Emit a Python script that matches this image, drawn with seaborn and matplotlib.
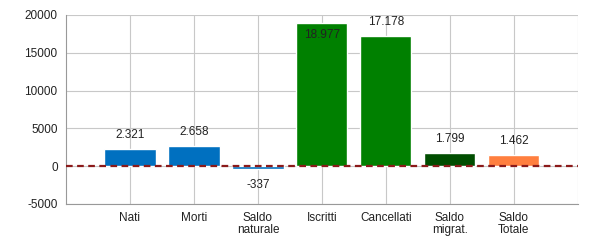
import matplotlib
matplotlib.use("Agg")
import matplotlib.pyplot as plt
import seaborn as sns
import pandas as pd

categories = ["Nati", "Morti", "Saldo\nnaturale", "Iscritti", "Cancellati", "Saldo\nmigrat.", "Saldo\nTotale"]
values = [2321, 2658, -337, 18977, 17178, 1799, 1462]
colors = ["#0070C0", "#0070C0", "#0070C0", "#008000", "#008000", "#004D00", "#FF7F3F"]
yticks = [-5000, 0, 5000, 10000, 15000, 20000]

sns.set_style("white")
plt.rcParams["font.family"] = ["Liberation Sans", "DejaVu Sans"]

df = pd.DataFrame({"cat": categories, "val": values})
fig = plt.figure(figsize=(6, 2.5), dpi=100)
ax = fig.add_axes([0.11, 0.184, 0.853, 0.756])
sns.barplot(data=df, x="cat", y="val", hue="cat", palette=colors, legend=False,
            width=0.8, saturation=1, ax=ax, zorder=3)

ax.set_xlim(-1, 7)
ax.set_ylim(-5000, 20000)
ax.set_xticks(list(range(0, 8)))
ax.set_xticklabels(categories + [""], fontsize=8.5, linespacing=1.0)
ax.set_yticks(yticks)
ax.set_yticklabels([str(v) for v in yticks], fontsize=8.5)
ax.set_xlabel("")
ax.set_ylabel("")
ax.grid(True, color="#c8c8c8", linewidth=0.8, zorder=0)
ax.set_axisbelow(True)
for s in ["top", "right"]:
    ax.spines[s].set_visible(False)
for s in ["left", "bottom"]:
    ax.spines[s].set_color("#999999")
    ax.spines[s].set_linewidth(0.8)
ax.tick_params(axis="both", length=4, width=0.8, color="#333333", pad=2, labelcolor="#222222")

ax.axhline(0, color="#8B1A1A", linestyle=(0, (3, 2)), linewidth=1.6, zorder=4)

for i, v in enumerate(values):
    lab = f"{abs(v):,}".replace(",", ".")
    if v < 0:
        lab = "-" + lab
        ax.annotate(lab, (i, v), xytext=(0, -12), textcoords="offset points",
                    ha="center", va="center", fontsize=8.5, color="#222222", zorder=5)
    elif v > 18000:
        ax.annotate(lab, (i, v), xytext=(0, -9), textcoords="offset points",
                    ha="center", va="center", fontsize=8.5, color="#222222", zorder=5)
    else:
        ax.annotate(lab, (i, v), xytext=(0, 10), textcoords="offset points",
                    ha="center", va="center", fontsize=8.5, color="#222222", zorder=5)

fig.savefig("out.png", dpi=100)
